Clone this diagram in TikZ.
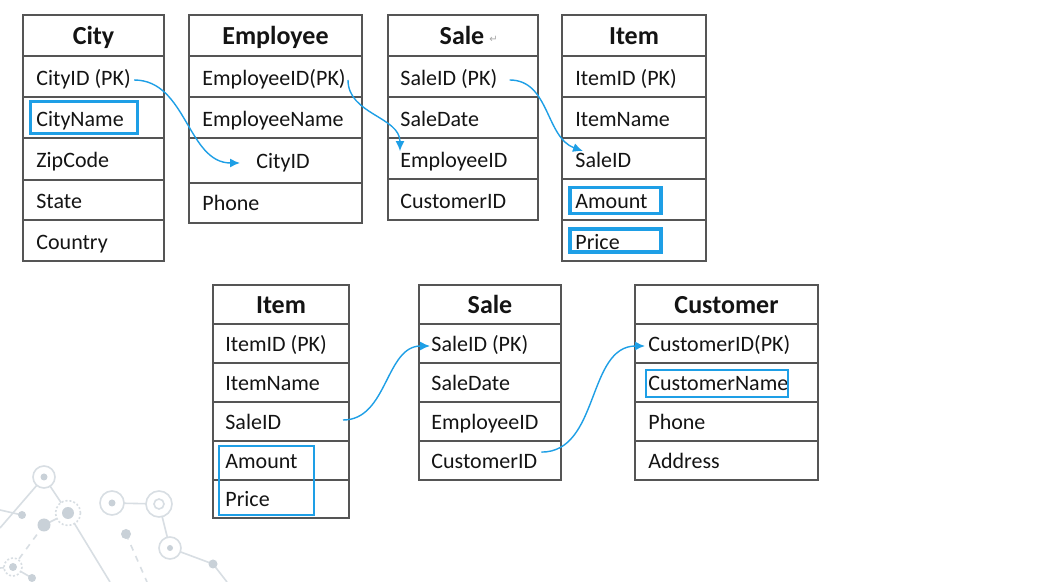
\documentclass[tikz,border=0pt]{standalone}
\usepackage{fontspec}
\setmainfont{Carlito}
\newfontfamily\markfont{DejaVu Sans}
\usetikzlibrary{arrows.meta}
\definecolor{fkblue}{HTML}{1E9FE6}
\definecolor{gridgray}{HTML}{555555}
\definecolor{inkblack}{HTML}{141414}
\definecolor{decoline}{HTML}{D8DEE3}
\definecolor{decodot}{HTML}{C9D1D8}

\begin{document}
\begin{tikzpicture}[x=0.5pt,y=-0.5pt,
        tab/.style={draw=gridgray,line width=0.7pt},
        head/.style={anchor=base,inner sep=0pt,text=inkblack,font=\fontsize{13}{15}\selectfont\bfseries},
        field/.style={anchor=base west,inner sep=0pt,text height=8pt,text depth=2.5pt,text=inkblack,font=\fontsize{11}{13}\selectfont},
        keybox/.style={draw=fkblue,line width=1.8pt},
        keyframe/.style={draw=fkblue,line width=1pt},
        fk/.style={draw=fkblue,line width=0.7pt,-{Latex[length=5pt,width=4.5pt]}},
        net/.style={draw=decoline,line width=0.8pt},
        ring/.style={draw=decoline,line width=0.8pt,fill=white}]
        \useasboundingbox[fill=white] (0,0) rectangle (1040,582);

        % background network
        \draw[net] (0,510) -- (22,515);
        \draw[net] (0,528) -- (44,477) -- (68,513) -- (44,525);
        \draw[net,dashed] (44,525) -- (13,567);
        \draw[net] (0,568) -- (13,567) -- (32,578);
        \draw[net] (68,513) -- (110,582);
        \draw[net] (112,503) -- (159,504) -- (170,548) -- (213,564) -- (227,582);
        \draw[net,dashed] (126,534) -- (147,582);
        \draw[ring] (44,477) circle[radius=11];
        \draw[ring] (112,503) circle[radius=12];
        \draw[ring] (159,504) circle[radius=13];
        \draw[ring] (159,504) circle[radius=5];
        \draw[ring] (170,548) circle[radius=11];
        \draw[ring,dash pattern=on 1pt off 1pt] (68,513) circle[radius=12.5];
        \draw[ring,dash pattern=on 1pt off 1pt] (13,567) circle[radius=9];
        \fill[decodot] (44,477) circle[radius=3.5];
        \fill[decodot] (112,503) circle[radius=3.5];
        \fill[decodot] (170,548) circle[radius=3];
        \fill[decodot] (68,513) circle[radius=6];
        \fill[decodot] (13,567) circle[radius=4];
        \fill[decodot] (22,515) circle[radius=4];
        \fill[decodot] (44,525) circle[radius=6.5];
        \fill[decodot] (32,578) circle[radius=4];
        \fill[decodot] (126,534) circle[radius=5];
        \fill[decodot] (213,564) circle[radius=4.5];

        % City
        \draw[tab] (23,15) rectangle (164,261);
        \foreach \y in {56,97,138,180,220} \draw[tab] (23,\y) -- (164,\y);
        \node[head] (cityhead) at (93.5,45) {City};
        \node[field] (cityid) at (36,85.5) {CityID (PK)};
        \node[field] (cityname) at (36,126.5) {CityName};
        \node[field] (cityzip) at (36,167.5) {ZipCode};
        \node[field] (citystate) at (36,208.5) {State};
        \node[field] (citycountry) at (36,249.5) {Country};
        \draw[keybox] (30.5,101.5) rectangle (137.5,133.5);

        % Employee
        \draw[tab] (189,15) rectangle (362,223);
        \foreach \y in {56,97,138,183} \draw[tab] (189,\y) -- (362,\y);
        \node[head] (emphead) at (275.5,45) {Employee};
        \node[field] (empid) at (202,85.5) {EmployeeID(PK)};
        \node[field] (empname) at (202,126.5) {EmployeeName};
        \node[field] (empcity) at (256,168.5) {CityID};
        \node[field] (empphone) at (202,211) {Phone};

        % Sale (top)
        \draw[tab] (388,15) rectangle (538,220);
        \foreach \y in {56,97,138,179} \draw[tab] (388,\y) -- (538,\y);
        \node[head] (salehead) at (462,45) {Sale};
        \node[anchor=base west,inner sep=0pt,text=gray!70,font=\markfont\fontsize{5}{6}\selectfont] (salemark) at (489,43) {↵};
        \node[field] (saleid) at (400,85.5) {SaleID (PK)};
        \node[field] (saledate) at (400,126.5) {SaleDate};
        \node[field] (saleemp) at (400,167.5) {EmployeeID};
        \node[field] (salecust) at (400,208.5) {CustomerID};

        % Item (top)
        \draw[tab] (562,15) rectangle (706,261);
        \foreach \y in {56,97,138,179,220} \draw[tab] (562,\y) -- (706,\y);
        \node[head] (itemhead) at (634,45) {Item};
        \node[field] (itemid) at (575,85.5) {ItemID (PK)};
        \node[field] (itemname) at (575,126.5) {ItemName};
        \node[field] (itemsale) at (575,167.5) {SaleID};
        \node[field] (itemamount) at (575,208.5) {Amount};
        \node[field] (itemprice) at (575,249.5) {Price};
        \draw[keybox] (570,187.5) rectangle (661,213.5);
        \draw[keybox] (570,229) rectangle (661,252);

        % Item (bottom)
        \draw[tab] (213,285) rectangle (349,518);
        \foreach \y in {324,363,402,441,480} \draw[tab] (213,\y) -- (349,\y);
        \node[head] (bitemhead) at (281,313.5) {Item};
        \node[field] (bitemid) at (225,351.5) {ItemID (PK)};
        \node[field] (bitemname) at (225,390.5) {ItemName};
        \node[field] (bitemsale) at (225,429.5) {SaleID};
        \node[field] (bitemamount) at (225,468.5) {Amount};
        \node[field] (bitemprice) at (225,507) {Price};
        \draw[keyframe] (219,446) rectangle (314,515);

        % Sale (bottom)
        \draw[tab] (419,285) rectangle (561,480);
        \foreach \y in {324,363,402,441} \draw[tab] (419,\y) -- (561,\y);
        \node[head] (bsalehead) at (490,313.5) {Sale};
        \node[field] (bsaleid) at (431,351.5) {SaleID (PK)};
        \node[field] (bsaledate) at (431,390.5) {SaleDate};
        \node[field] (bsaleemp) at (431,429.5) {EmployeeID};
        \node[field] (bsalecust) at (431,468.5) {CustomerID};

        % Customer
        \draw[tab] (635,285) rectangle (818,480);
        \foreach \y in {324,363,402,441} \draw[tab] (635,\y) -- (818,\y);
        \node[head] (custhead) at (726.5,313.5) {Customer};
        \node[field] (custid) at (648,351.5) {CustomerID(PK)};
        \node[field] (custname) at (648,390.5) {CustomerName};
        \node[field] (custphone) at (648,429.5) {Phone};
        \node[field] (custaddr) at (648,468.5) {Address};
        \draw[keyframe] (646,370.5) rectangle (787.5,397.5);

        % foreign keys
        \coordinate (bitemsaleout) at (343,420);
        \draw[fk] ([xshift=1.5pt]cityid.east) to[out=0,in=180] ([xshift=-8pt]empcity.west);
        \draw[fk] ([xshift=1pt]empid.east) to[out=-90,in=90] (saleemp.north west);
        \draw[fk] ([xshift=6pt]saleid.east) to[out=0,in=160] ([xshift=4pt]itemsale.north west);
        \draw[fk] (bitemsaleout) to[out=0,in=180] ([xshift=-0.5pt]bsaleid.west);
        \draw[fk] ([xshift=2pt]bsalecust.north east) to[out=0,in=180] ([xshift=-1.5pt]custid.west);
    \end{tikzpicture}
\end{document}
